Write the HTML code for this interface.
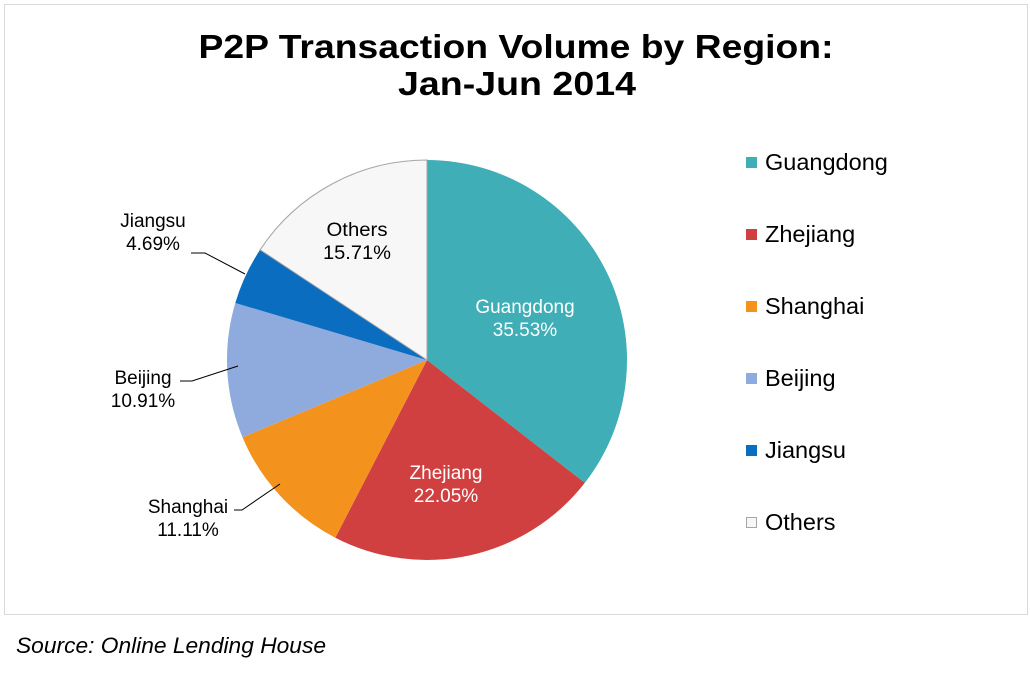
<!DOCTYPE html>
<html><head><meta charset="utf-8"><style>
html,body{margin:0;padding:0;background:#fff;}
svg{display:block;font-family:"Liberation Sans",Arial,sans-serif;}
</style></head><body>
<svg width="1030" height="674" viewBox="0 0 1030 674">
<rect x="4.5" y="4.5" width="1023" height="610" fill="#fff" stroke="#d9d9d9"/>
<text x="516" y="58" text-anchor="middle" font-size="33" font-weight="bold" textLength="635" lengthAdjust="spacingAndGlyphs">P2P Transaction Volume by Region:</text>
<text x="517" y="95" text-anchor="middle" font-size="33" font-weight="bold" textLength="238" lengthAdjust="spacingAndGlyphs">Jan-Jun 2014</text>
<path d="M427,360 L427,160 A200,200 0 0,1 584.8,482.9 Z" fill="#3FAEB7"/>
<path d="M427,360 L584.8,482.9 A200,200 0 0,1 335.3,537.7 Z" fill="#D04040"/>
<path d="M427,360 L335.3,537.7 A200,200 0 0,1 242.5,437.2 Z" fill="#F3931E"/>
<path d="M427,360 L242.5,437.2 A200,200 0 0,1 235.3,303.0 Z" fill="#8FAADC"/>
<path d="M427,360 L235.3,303.0 A200,200 0 0,1 260.1,249.8 Z" fill="#0A6DC0"/>
<path d="M427,360 L260.1,249.8 A200,200 0 0,1 427,160 Z" fill="#F7F7F7" stroke="#a6a6a6" stroke-width="1"/>
<g font-size="19" text-anchor="middle">
<text x="357" y="236" textLength="61" lengthAdjust="spacingAndGlyphs">Others</text><text x="357" y="259" textLength="68" lengthAdjust="spacingAndGlyphs">15.71%</text>
<text x="525" y="313" fill="#fff">Guangdong</text><text x="525" y="336" fill="#fff">35.53%</text>
<text x="446" y="479" fill="#fff">Zhejiang</text><text x="446" y="502" fill="#fff">22.05%</text>
<text x="153" y="227">Jiangsu</text><text x="153" y="250">4.69%</text>
<text x="143" y="384">Beijing</text><text x="143" y="407">10.91%</text>
<text x="188" y="513">Shanghai</text><text x="188" y="536">11.11%</text>
</g>
<g stroke="#000" stroke-width="1" fill="none">
<polyline points="191,253 205,253 245,274"/>
<polyline points="180,381 192,381 238,366"/>
<polyline points="234,510 242,510 280,484"/>
</g>
<g font-size="23.5">
<rect x="746" y="157" width="11" height="11" fill="#3FAEB7"/><text x="765" y="170">Guangdong</text>
<rect x="746" y="229" width="11" height="11" fill="#D04040"/><text x="765" y="242">Zhejiang</text>
<rect x="746" y="301" width="11" height="11" fill="#F3931E"/><text x="765" y="314">Shanghai</text>
<rect x="746" y="373" width="11" height="11" fill="#8FAADC"/><text x="765" y="386">Beijing</text>
<rect x="746" y="445" width="11" height="11" fill="#0A6DC0"/><text x="765" y="458">Jiangsu</text>
<rect x="746.5" y="517.5" width="10" height="10" fill="#F7F7F7" stroke="#a6a6a6"/><text x="765" y="530">Others</text>
</g>
<text x="16" y="653" font-size="22" font-style="italic" textLength="310" lengthAdjust="spacingAndGlyphs">Source: Online Lending House</text>
</svg>
</body></html>
